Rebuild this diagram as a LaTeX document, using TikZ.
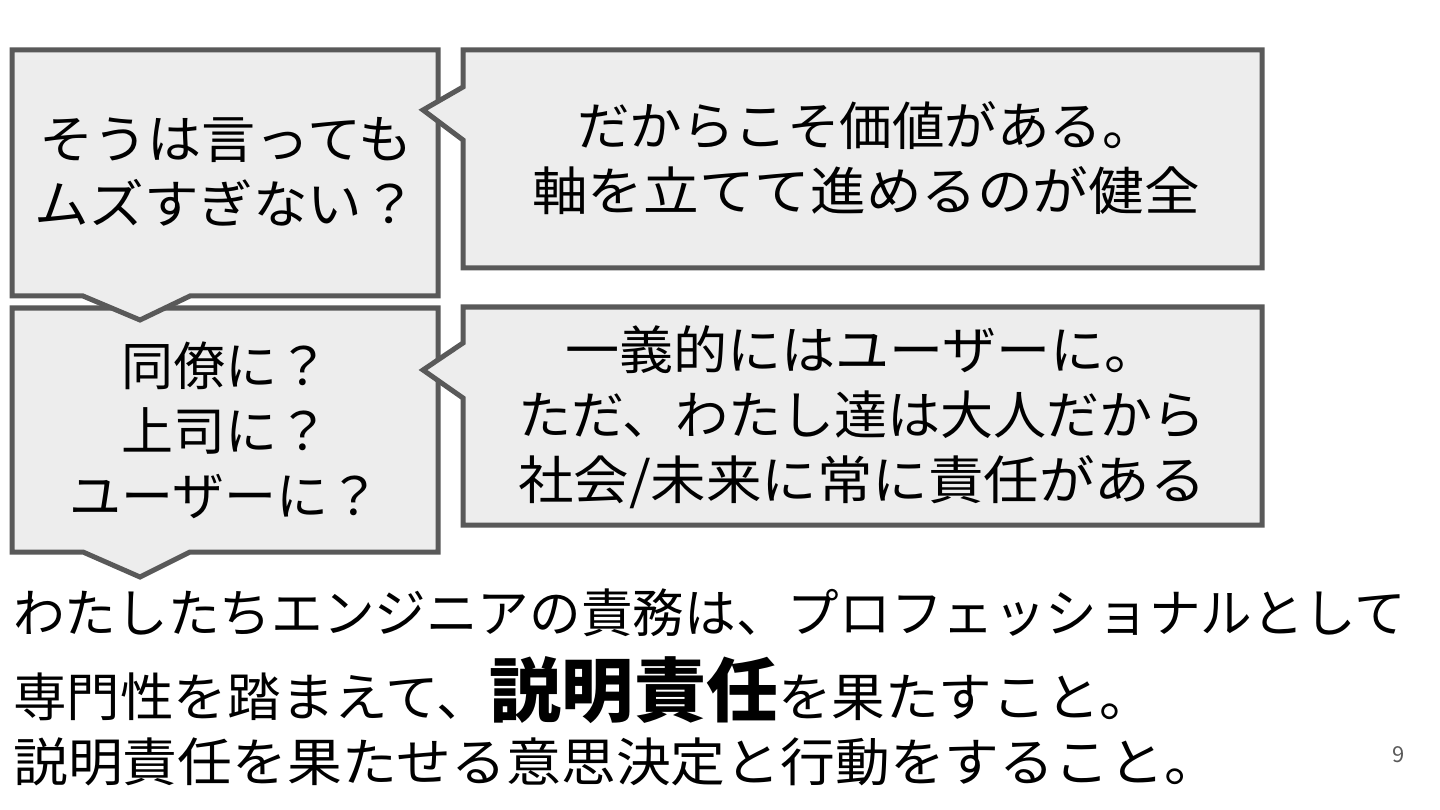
\documentclass[tikz,border=0pt]{standalone}
\usepackage{fontspec}
\newfontfamily\jp{Noto Sans CJK JP}
\definecolor{bordergray}{HTML}{595959}
\definecolor{fillgray}{HTML}{EDEDED}
\newcommand{\wline}[2]{\scalebox{#1}[1]{#2}}
\tikzset{
  callout/.style={draw=bordergray, fill=fillgray, line width=5pt, line join=miter},
  txt/.style={font=\jp\fontsize{52}{65}\selectfont, align=center, inner sep=0pt},
  bodytxt/.style={font=\jp\fontsize{52}{65}\selectfont, anchor=west, inner sep=0pt},
}
\begin{document}
\begin{tikzpicture}[x=1pt,y=-1pt]
\useasboundingbox (0,0) rectangle (1440,810);
\fill[white] (0,0) rectangle (1440,810);
% box C (drawn first, A's pointer overlaps it)
\draw[callout] (12,308) -- (438,308) -- (438,552) -- (190,552) -- (140,577) -- (83,552) -- (12,552) -- cycle;
% box A
\draw[callout] (12,50) -- (438,50) -- (438,296) -- (190,296) -- (140,320) -- (83,296) -- (12,296) -- cycle;
% box B
\draw[callout] (463,50) -- (1262,50) -- (1262,268) -- (463,268) -- (463,140) -- (423,110) -- (463,87) -- cycle;
% box D
\draw[callout] (463,307) -- (1262,307) -- (1262,525) -- (463,525) -- (463,398) -- (423,370) -- (463,343) -- cycle;

\node[txt] (ta) at (226,172) {\wline{1.04}{そうは言っても}\\\wline{1.05}{ムズすぎない？}};
\node[txt] (tb) at (866,158) {\wline{1.01}{だからこそ価値がある。}\\\wline{1.07}{軸を立てて進めるのが健全}};
\node[txt] (tc) at (225,430) {同僚に？\\上司に？\\ユーザーに？};
\node[txt] (td) at (862,417) {\wline{1.04}{一義的にはユーザーに。}\\\wline{1.02}{ただ、わたし達は大人だから}\\\wline{1.067}{社会/未来に常に責任がある}};

\node[bodytxt] (l1) at (13,613) {\wline{0.993}{わたしたちエンジニアの責務は、プロフェッショナルとして}};
\node[bodytxt] (l2) at (13,690) {\wline{1.03}{専門性を踏まえて、{\bfseries\fontsize{70}{70}\selectfont 説明責任}を果たすこと。}};
\node[bodytxt] (l3) at (13,762) {\wline{1.054}{説明責任を果たせる意思決定と行動をすること。}};

\node[font=\jp\fontsize{22}{22}\selectfont, text=bordergray, inner sep=0pt] (pg) at (1399,755) {9};
\end{tikzpicture}
\end{document}
